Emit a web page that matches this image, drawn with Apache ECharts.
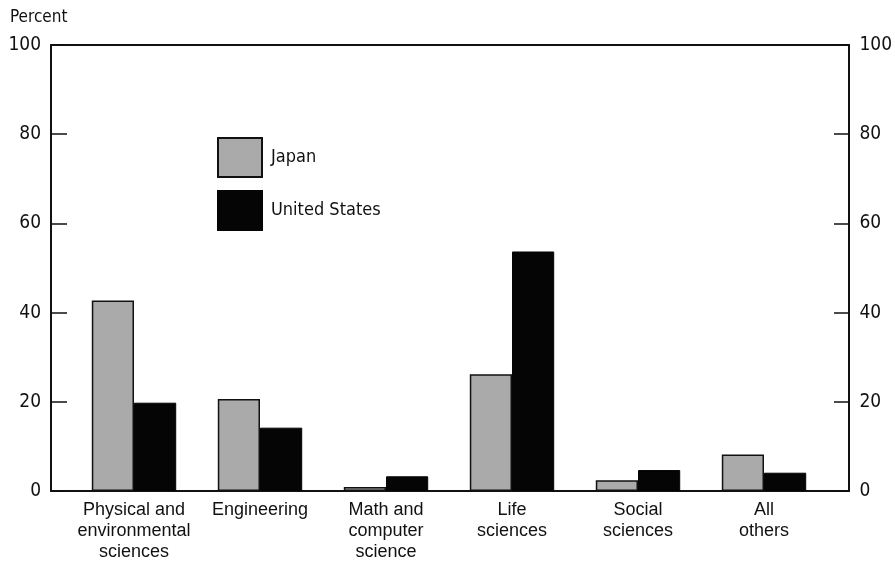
<!DOCTYPE html>
<html><head><meta charset="utf-8">
<script src="https://cdn.jsdelivr.net/npm/echarts@6/dist/echarts.min.js"></script>
<style>html,body{margin:0;padding:0;background:#fff}#c{width:895px;height:567px}</style>
</head><body><div id="c"></div>
<script>
const categories = ["Physical and\nenvironmental\nsciences", "Engineering", "Math and\ncomputer\nscience", "Life\nsciences", "Social\nsciences", "All\nothers"];
const japan = [42.7, 20.6, 0.9, 26.2, 2.4, 8.2];
const unitedStates = [19.8, 14.2, 3.3, 53.7, 4.7, 4.1];
const yTicks = [0, 20, 40, 60, 80, 100];

const FONT = '"DejaVu Sans Condensed", "Liberation Sans", Arial, sans-serif';
const FONT2 = '"Liberation Sans", Arial, sans-serif';
const chart = echarts.init(document.getElementById('c'), null, {renderer: 'canvas'});
const labelFmt = v => yTicks.includes(v) ? String(v) : '';
chart.setOption({
  animation: false,
  textStyle: {fontFamily: FONT2},
  title: {text: 'Percent', left: 10, top: 9, padding: 0, textStyle: {fontSize: 17, fontWeight: 'normal', color: '#111', fontFamily: FONT}},
  legend: {
    orient: 'vertical', left: 217, top: 137, padding: 0, itemWidth: 44, itemHeight: 39, itemGap: 12,
    icon: 'rect',
    textStyle: {fontSize: 18, color: '#111', fontFamily: FONT, padding: [0, 0, 0, 4]},
    data: ['Japan', 'United States']
  },
  grid: [
    {left: 51, right: 45, top: 45, bottom: 76},
    {left: 71, right: 68, top: 45, bottom: 76}
  ],
  xAxis: [
    {type: 'value', gridIndex: 0, min: 0, max: 1, position: 'bottom',
      axisLine: {show: true, onZero: false, lineStyle: {color: '#111', width: 2}},
      axisTick: {show: false}, axisLabel: {show: false}, splitLine: {show: false}},
    {type: 'value', gridIndex: 0, min: 0, max: 1, position: 'top',
      axisLine: {show: true, onZero: false, lineStyle: {color: '#111', width: 2}},
      axisTick: {show: false}, axisLabel: {show: false}, splitLine: {show: false}},
    {type: 'category', gridIndex: 1, data: categories,
      axisLine: {show: false}, axisTick: {show: false},
      axisLabel: {color: '#111', fontSize: 18, lineHeight: 21, margin: 9, fontFamily: FONT2, interval: 0}}
  ],
  yAxis: [
    {type: 'value', min: 0, max: 100, interval: 20, gridIndex: 0, position: 'left',
      splitLine: {show: false},
      axisLine: {show: true, onZero: false, lineStyle: {color: '#111', width: 2}},
      axisTick: {show: true, inside: true, length: 16, lineStyle: {color: '#111', width: 1.5}},
      axisLabel: {color: '#111', fontSize: 19, fontFamily: FONT, margin: 10, formatter: labelFmt}},
    {type: 'value', min: 0, max: 100, interval: 20, gridIndex: 0, position: 'right',
      splitLine: {show: false},
      axisLine: {show: true, onZero: false, lineStyle: {color: '#111', width: 2}},
      axisTick: {show: false},
      axisLabel: {color: '#111', fontSize: 19, fontFamily: FONT, margin: 11, formatter: labelFmt}},
    {type: 'value', gridIndex: 1, min: 0, max: 100, show: false},
    {type: 'value', min: 0, max: 100, interval: 20, gridIndex: 0, position: 'left', offset: -799,
      splitLine: {show: false},
      axisLine: {show: false, onZero: false},
      axisTick: {show: true, inside: false, length: 16, lineStyle: {color: '#111', width: 1.5}},
      axisLabel: {show: false}}
  ],
  series: [
    {name: 'Japan', type: 'bar', xAxisIndex: 2, yAxisIndex: 2, data: japan,
      barGap: '0%', barCategoryGap: '33%',
      itemStyle: {color: '#aaaaaa', borderColor: '#111', borderWidth: 1.5}},
    {name: 'United States', type: 'bar', xAxisIndex: 2, yAxisIndex: 2, data: unitedStates,
      barGap: '0%', barCategoryGap: '33%',
      itemStyle: {color: '#050505', borderColor: '#050505', borderWidth: 1}}
  ]
});
</script></body></html>
